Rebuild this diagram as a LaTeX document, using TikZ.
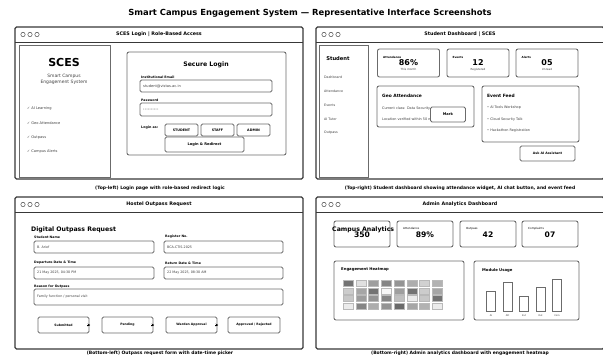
\documentclass[tikz,border=0pt]{standalone}
\usepackage{fontspec}
\setmainfont{DejaVu Sans}
\usetikzlibrary{arrows.meta,positioning}
\definecolor{winc}{gray}{0.22}
\definecolor{edgec}{gray}{0.42}
\definecolor{txtc}{gray}{0.25}
\newcommand\fsz[1]{\fontsize{#1}{#1}\selectfont}
% window frame: x1, y1, x2, y2, title, name
\newcommand\appwindow[6]{%
  \draw[win] (#1,#2) rectangle (#3,#4);
  \draw[titlebar] (#1,#2+15) -- (#3,#2+15);
  \foreach \k in {0,1,2}
    \draw[winbtn] (#1+8+7*\k,#2+7.5) circle (2.2pt);
  \node[wintitle] (#6) at ({(#1+#3)/2},#2+7.5) {#5};
}
\tikzset{
  win/.style={draw=winc, line width=1.1pt, rounded corners=1.5pt},
  titlebar/.style={draw=winc, line width=0.9pt},
  winbtn/.style={draw=winc, line width=0.45pt},
  wintitle/.style={inner sep=0pt, font=\bfseries\fsz{4.8}},
  caption/.style={inner sep=0pt, font=\bfseries\fsz{4.5}},
  side/.style={draw=edgec, line width=0.9pt},
  card/.style={draw=edgec, line width=0.9pt, rounded corners=2pt, fill=white, inner sep=0pt},
  field/.style={card, rounded corners=1.5pt},
  btn/.style={card, rounded corners=1.5pt, font=\bfseries\fsz{3.3}},
  heading/.style={inner sep=0pt, font=\bfseries\fsz{6.2}},
  subhead/.style={inner sep=0pt, font=\bfseries\fsz{4.4}, anchor=west},
  lbl/.style={inner sep=0pt, font=\bfseries\fsz{3.2}, anchor=west},
  small/.style={inner sep=0pt, font=\fsz{3.6}, text=txtc, anchor=west},
  tiny/.style={inner sep=0pt, font=\fsz{3}, text=txtc},
  value/.style={inner sep=0pt, font=\bfseries\fsz{8}},
  cell/.style={draw=gray!55, line width=0.3pt},
  barbox/.style={draw=edgec, line width=0.8pt, fill=white},
  flow/.style={-{Stealth[length=2.6pt,width=2.6pt]}, line width=0.6pt},
}
\begin{document}
\begin{tikzpicture}[x=1pt, y=-1pt]
\useasboundingbox (0,0) rectangle (603,362);
\node[inner sep=0pt, font=\bfseries\fsz{8.4}] (maintitle) at (310,13.5)
  {Smart Campus Engagement System — Representative Interface Screenshots};

% top-left: login
\appwindow{15}{27}{303}{179}{SCES Login | Role-Based Access}{logintitle}
\draw[side] (19,45) rectangle (110,177);
\node[inner sep=0pt, font=\bfseries\fsz{11}] (sces) at (64,62) {SCES};
\node[inner sep=0pt, font=\fontsize{4.5}{6}\selectfont, text=txtc, align=center] (scestag) at (64,79)
  {Smart Campus\\Engagement System};
\foreach \t [count=\i] in {AI Learning, Geo Attendance, Outpass, Campus Alerts}
  \node[small] (feat\i) at (27,94.7+14.3*\i) {✓ \t};
\node[card, minimum width=159pt, minimum height=103pt] (logincard) at (206.5,103.5) {};
\node[heading] (securelogin) at (206,65) {Secure Login};
\node[lbl] (emaillbl) at (141,77) {Institutional Email};
\node[field, minimum width=132pt, minimum height=12pt] (email) at (206,86) {};
\node[small] (emailtxt) at (143,86) {student@vistas.ac.in};
\node[lbl] (pwlbl) at (141,100) {Password};
\node[field, minimum width=132pt, minimum height=13pt] (pw) at (206,109.5) {};
\node[small, font=\fsz{2.6}] (pwtxt) at (143,109.5) {••••••••••};
\node[lbl, font=\bfseries\fsz{3.3}] (loginas) at (141,128) {Login as:};
\node[btn, minimum width=33pt, minimum height=12pt] (student) at (181.5,130) {STUDENT};
\node[btn, minimum width=33pt, minimum height=12pt] (staff) at (217.5,130) {STAFF};
\node[btn, minimum width=33pt, minimum height=12pt] (admin) at (253.5,130) {ADMIN};
\node[btn, minimum width=79pt, minimum height=15pt, font=\bfseries\fsz{3.6}] (redirect) at (204.5,144.5) {Login \& Redirect};
\node[caption] (cap1) at (160,188) {(Top-left) Login page with role-based redirect logic};

% top-right: student dashboard
\appwindow{316}{27}{604}{179}{Student Dashboard | SCES}{studtitle}
\draw[side] (319,45) rectangle (368,177);
\node[inner sep=0pt, font=\bfseries\fsz{5.2}] (studhead) at (338,59) {Student};
\foreach \t [count=\i] in {Dashboard, Attendance, Events, AI Tutor, Outpass}
  \node[small, font=\fsz{3.3}] (menu\i) at (324,63+14*\i) {\t};
\foreach \cx/\nm/\lab/\val/\sub in {408.5/attcard/Attendance/86\%/This month, 478/evtcard/Events/12/Registered, 547/alrcard/Alerts/05/Unread} {
  \node[card, minimum width=62pt, minimum height=28pt] (\nm) at (\cx,63) {};
  \node[lbl, font=\bfseries\fsz{2.8}] at (\cx-25.5,57) {\lab};
  \node[value] at (\cx,62.5) {\val};
  \node[tiny, font=\fsz{2.8}] at (\cx,69.5) {\sub};
}
\node[card, minimum width=97pt, minimum height=41pt] (geocard) at (425.5,106.5) {};
\node[subhead] (geohead) at (382,96) {Geo Attendance};
\node[small, font=\fsz{3.4}] (geo1) at (382,109) {Current class: Data Security};
\node[small, font=\fsz{3.4}] (geo2) at (382,119) {Location verified within 50 m};
\node[btn, minimum width=35pt, minimum height=15pt, font=\bfseries\fsz{3.6}] (mark) at (448,114.5) {Mark};
\node[card, minimum width=97pt, minimum height=56pt] (feedcard) at (530.5,114) {};
\node[subhead] (feedhead) at (487,96) {Event Feed};
\foreach \t/\y [count=\i] in {AI Tools Workshop/108, Cloud Security Talk/119.5, Hackathon Registration/131}
  \node[small, font=\fsz{3.4}] (feed\i) at (487,\y) {• \t};
\node[btn, minimum width=55pt, minimum height=15pt, font=\bfseries\fsz{3.2}] (askai) at (547.5,153.5) {Ask AI Assistant};
\node[caption] (cap2) at (460,188) {(Top-right) Student dashboard showing attendance widget, AI chat button, and event feed};

% bottom-left: outpass form
\appwindow{15}{197}{303}{349}{Hostel Outpass Request}{outtitle}
\node[heading, anchor=west] (outhead) at (31,230) {Digital Outpass Request};
\node[lbl] (namelbl) at (34,237) {Student Name};
\node[lbl] (reglbl) at (165,237) {Register No.};
\node[field, minimum width=120pt, minimum height=12pt] (namef) at (94,247) {};
\node[field, minimum width=119pt, minimum height=12pt] (regf) at (223.5,247) {};
\node[small, font=\fsz{3.3}] (nametxt) at (37,247) {B. Arief};
\node[small, font=\fsz{3.3}] (regtxt) at (167,247) {BCA-CTIS-2025};
\node[lbl] (deplbl) at (34,263) {Departure Date \& Time};
\node[lbl] (retlbl) at (165,263) {Return Date \& Time};
\node[field, minimum width=120pt, minimum height=12pt] (depf) at (94,273) {};
\node[field, minimum width=119pt, minimum height=12pt] (retf) at (223.5,273) {};
\node[small, font=\fsz{3.3}] (deptxt) at (37,273) {21 May 2025, 04:30 PM};
\node[small, font=\fsz{3.3}] (rettxt) at (167,273) {22 May 2025, 08:30 AM};
\node[lbl] (reaslbl) at (34,286.5) {Reason for Outpass};
\node[field, minimum width=249pt, minimum height=16pt] (reasf) at (158.5,297) {};
\node[small, font=\fsz{3.3}] (reastxt) at (37,297) {Family function / personal visit};
\node[btn, minimum width=51pt, minimum height=16pt, font=\bfseries\fsz{3.1}] (submitted) at (63.5,325) {Submitted};
\node[btn, minimum width=51pt, minimum height=16pt, font=\bfseries\fsz{3.1}] (pending) at (127.5,325) {Pending};
\node[btn, minimum width=51pt, minimum height=16pt, font=\bfseries\fsz{3.1}] (warden) at (191.5,325) {Warden Approval};
\node[btn, minimum width=52pt, minimum height=16pt, font=\bfseries\fsz{3.1}] (approved) at (254,325) {Approved / Rejected};
\foreach \s in {submitted, pending, warden}
  \draw[flow] ([xshift=-2pt]\s.east) -- ([xshift=0.8pt]\s.east);
\node[caption] (cap3) at (160,353) {(Bottom-left) Outpass request form with date-time picker};

% bottom-right: admin analytics
\appwindow{316}{197}{604}{349}{Admin Analytics Dashboard}{admtitle}
\foreach \cx/\nm/\lab/\val in {362/stucard//350, 425/attadm/Attendance/89\%, 488/outadm/Outpass/42, 550/cmpadm/Complaints/07} {
  \node[card, minimum width=56pt, minimum height=26pt] (\nm) at (\cx,234) {};
  \node[lbl, font=\fsz{2.8}] at (\cx-22,228.5) {\lab};
  \node[value, font=\bfseries\fsz{7.6}] at (\cx,234.5) {\val};
}
\node[heading, anchor=west] (admhead) at (332,230) {Campus Analytics};
\node[card, minimum width=130pt, minimum height=59pt] (heatcard) at (399,290.5) {};
\node[subhead, font=\bfseries\fsz{3.8}] (heathead) at (341,270) {Engagement Heatmap};
\foreach \row [count=\j from 0] in {{55,12,38,48,42,32,18,30},{20,35,55,3,38,55,20,35},{22,38,42,48,25,8,22,55},{8,48,32,42,58,35,30,8}}
  \foreach \v [count=\i from 0] in \row
    \draw[cell, fill=black!\v] (343+12.75*\i,280+7.8*\j) rectangle ++(10,6);
\node[card, minimum width=105pt, minimum height=59pt] (modcard) at (526.5,290.5) {};
\node[subhead, font=\bfseries\fsz{3.8}] (modhead) at (482,270) {Module Usage};
\foreach \xc/\tp/\nm in {491/291/AI, 507.5/282/Att, 524/296/Evt, 540.5/287/Out, 557/279/Com} {
  \draw[barbox] (\xc-4.5,311) rectangle (\xc+4.5,\tp);
  \node[tiny, font=\fsz{2.4}] (bar\nm) at (\xc,315.5) {\nm};
}
\node[caption] (cap4) at (460,353) {(Bottom-right) Admin analytics dashboard with engagement heatmap};
\end{tikzpicture}
\end{document}
